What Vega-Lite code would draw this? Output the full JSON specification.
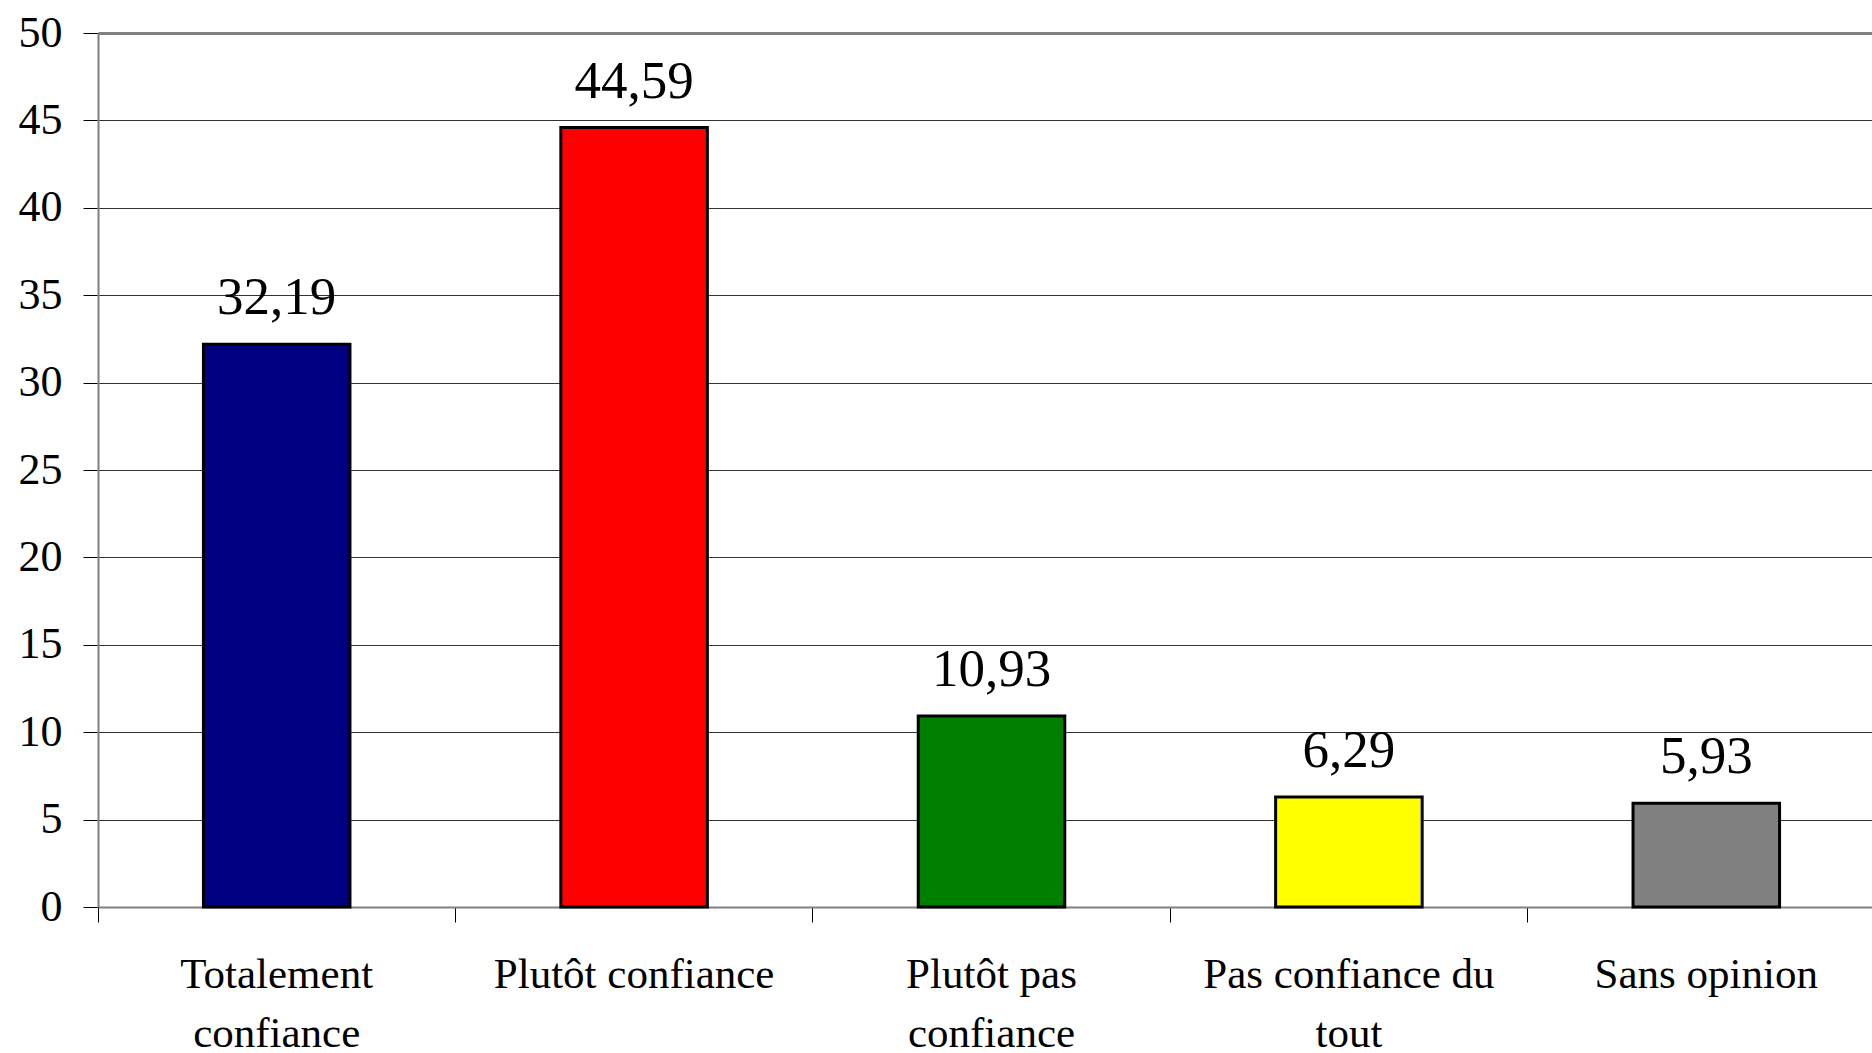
{
  "$schema": "https://vega.github.io/schema/vega-lite/v6.json",
  "autosize": "none",
  "padding": {"left": 98, "top": 33, "right": 0, "bottom": 146},
  "width": 1787,
  "height": 874,
  "background": "white",
  "config": {
    "view": {"stroke": null},
    "locale": {"number": {"decimal": ",", "thousands": " ", "grouping": [3], "currency": ["", " €"]}},
    "font": "Liberation Serif"
  },
  "data": {
    "values": [
      {"categorie": "Totalement confiance", "pourcentage": 32.19},
      {"categorie": "Plutôt confiance", "pourcentage": 44.59},
      {"categorie": "Plutôt pas confiance", "pourcentage": 10.93},
      {"categorie": "Pas confiance du tout", "pourcentage": 6.29},
      {"categorie": "Sans opinion", "pourcentage": 5.93}
    ]
  },
  "encoding": {
    "x": {
      "field": "categorie",
      "type": "nominal",
      "sort": null,
      "scale": {"paddingInner": 0, "paddingOuter": 0},
      "axis": {
        "title": null,
        "labelAngle": 0,
        "bandPosition": 0,
        "grid": false,
        "domainColor": "#808080",
        "domainWidth": 2,
        "tickColor": "#000000",
        "tickWidth": 1,
        "tickSize": 15,
        "labelFont": "Liberation Serif",
        "labelFontSize": 43,
        "labelColor": "#000000",
        "labelLineHeight": 59,
        "labelPadding": 31,
        "labelLimit": 0,
        "labelOverlap": false,
        "labelExpr": "datum.value == 'Totalement confiance' ? ['Totalement', 'confiance'] : datum.value == 'Plutôt pas confiance' ? ['Plutôt pas', 'confiance'] : datum.value == 'Pas confiance du tout' ? ['Pas confiance du', 'tout'] : datum.value"
      }
    },
    "y": {
      "field": "pourcentage",
      "type": "quantitative",
      "scale": {"domain": [0, 50], "nice": false},
      "axis": {
        "title": null,
        "values": [0, 5, 10, 15, 20, 25, 30, 35, 40, 45, 50],
        "grid": true,
        "gridColor": {"condition": {"test": "datum.value == 50", "value": "#808080"}, "value": "#333333"},
        "gridWidth": {"condition": {"test": "datum.value == 50", "value": 3}, "value": 1},
        "domainColor": "#808080",
        "domainWidth": 2,
        "tickColor": "#000000",
        "tickWidth": 1,
        "tickSize": 15,
        "labelFont": "Liberation Serif",
        "labelFontSize": 44,
        "labelColor": "#000000",
        "labelPadding": 21
      }
    }
  },
  "layer": [
    {
      "mark": {"type": "bar", "width": {"band": 0.41}, "stroke": "#000000", "strokeWidth": 3},
      "encoding": {
        "color": {
          "field": "categorie",
          "type": "nominal",
          "legend": null,
          "scale": {
            "domain": ["Totalement confiance", "Plutôt confiance", "Plutôt pas confiance", "Pas confiance du tout", "Sans opinion"],
            "range": ["#000080", "#FF0000", "#008000", "#FFFF00", "#808080"]
          }
        }
      }
    },
    {
      "mark": {"type": "text", "baseline": "alphabetic", "dy": -30, "fontSize": 53, "font": "Liberation Serif", "color": "#000000"},
      "encoding": {
        "text": {"field": "pourcentage", "type": "quantitative", "format": ".2f"}
      }
    }
  ]
}
